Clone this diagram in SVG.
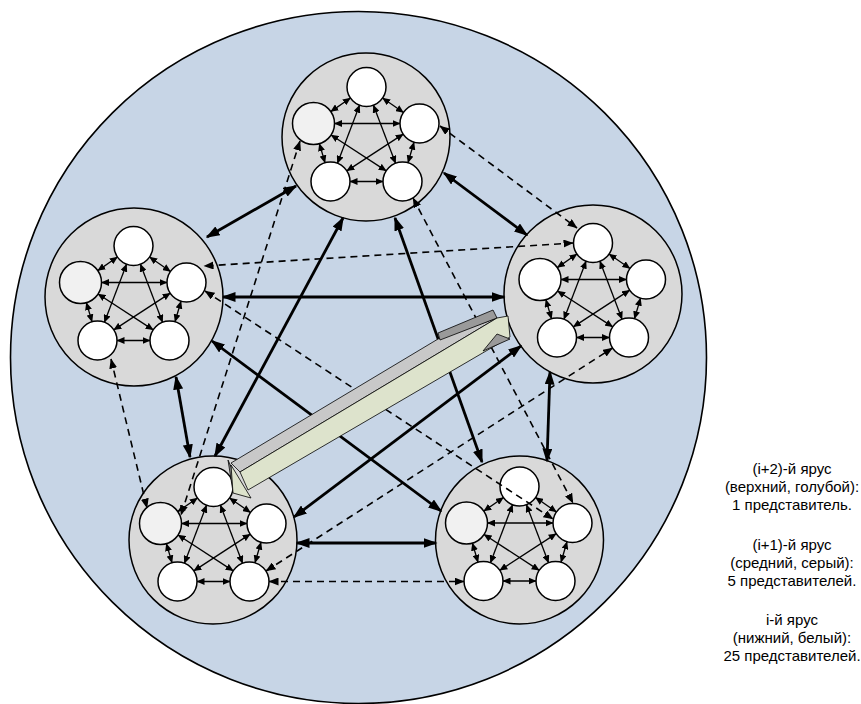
<svg xmlns="http://www.w3.org/2000/svg" xmlns:xlink="http://www.w3.org/1999/xlink" width="861" height="704" viewBox="0 0 861 704">
<style>
.outer{fill:#c7d5e6;stroke:#000;stroke-width:1.6}
.cl{fill:#d9d9d9;stroke:#000;stroke-width:1.5}
.nd{fill:#fff;stroke:#000;stroke-width:1.5}
.lt{fill:#f1f1f1;stroke:#000;stroke-width:1.5}
.ia{fill:none;stroke:#000;stroke-width:1.3;marker-start:url(#ms);marker-end:url(#ms)}
.th{fill:none;stroke:#000;stroke-width:2.8;marker-start:url(#mt);marker-end:url(#mt)}
.da{fill:none;stroke:#000;stroke-width:1.6;stroke-dasharray:7 5;marker-start:url(#md);marker-end:url(#md)}
.lbl{font-family:"Liberation Sans",Arial,sans-serif;font-size:15px;fill:#000;text-anchor:middle}
</style>
<defs>
<marker id="ms" markerUnits="userSpaceOnUse" viewBox="0 0 8 7" markerWidth="8" markerHeight="7" refX="7.5" refY="3.5" orient="auto-start-reverse"><path d="M0,0 L8,3.5 L0,7 z" fill="#000"/></marker>
<marker id="mt" markerUnits="userSpaceOnUse" viewBox="0 0 14 10" markerWidth="14" markerHeight="10" refX="12.5" refY="5" orient="auto-start-reverse"><path d="M0,0 L14,5 L0,10 z" fill="#000"/></marker>
<marker id="md" markerUnits="userSpaceOnUse" viewBox="0 0 10 8" markerWidth="10" markerHeight="8" refX="9.5" refY="4" orient="auto-start-reverse"><path d="M0,0 L10,4 L0,8 z" fill="#000"/></marker>
<g id="k5">
<path class="ia" d="M-16.06,-40.94 L-35.7,-27.41"/>
<path class="ia" d="M16.06,-40.94 L36.94,-26.56"/>
<path class="ia" d="M-6.94,-33.78 L-29.06,24.28"/>
<path class="ia" d="M6.94,-33.78 L29.06,24.28"/>
<path class="ia" d="M-32,-15.5 L33.5,-15.5"/>
<path class="ia" d="M-47.09,4.65 L-41.49,23.79"/>
<path class="ia" d="M47.51,3.21 L41.49,23.79"/>
<path class="ia" d="M-35.41,-4.03 L19.66,31.85"/>
<path class="ia" d="M36.66,-4.85 L-19.66,31.85"/>
<path class="ia" d="M-16.5,42.5 L16.5,42.5"/>
</g>
</defs>
<ellipse id="tier-top" class="outer" cx="358.5" cy="357.5" rx="348" ry="346"/>
<g id="cluster-top" transform="translate(366.5,139)">
<circle class="cl" cx="-0.5" cy="-2" r="84"/>
<use xlink:href="#k5"/>
<circle class="nd" cx="0" cy="-52" r="19.5"/>
<circle class="lt" cx="-53" cy="-15.5" r="21"/>
<circle class="nd" cx="53" cy="-15.5" r="19.5"/>
<circle class="nd" cx="-36" cy="42.5" r="19.5"/>
<circle class="nd" cx="36" cy="42.5" r="19.5"/>
</g>
<g id="cluster-left" transform="translate(133.5,298)">
<circle class="cl" cx="0.5" cy="-1" r="89"/>
<use xlink:href="#k5"/>
<circle class="nd" cx="0" cy="-52" r="19.5"/>
<circle class="lt" cx="-53" cy="-15.5" r="21"/>
<circle class="nd" cx="53" cy="-15.5" r="19.5"/>
<circle class="nd" cx="-36" cy="42.5" r="19.5"/>
<circle class="nd" cx="36" cy="42.5" r="19.5"/>
</g>
<g id="cluster-right" transform="translate(593,295)">
<circle class="cl" cx="0" cy="-1" r="89"/>
<use xlink:href="#k5"/>
<circle class="nd" cx="0" cy="-52" r="19.5"/>
<circle class="nd" cx="-53" cy="-15.5" r="21"/>
<circle class="nd" cx="53" cy="-15.5" r="19.5"/>
<circle class="nd" cx="-36" cy="42.5" r="19.5"/>
<circle class="nd" cx="36" cy="42.5" r="19.5"/>
</g>
<g id="cluster-bottom-left" transform="translate(213.5,539)">
<circle class="cl" cx="-0.5" cy="1" r="84"/>
<use xlink:href="#k5"/>
<circle class="nd" cx="0" cy="-52" r="19.5"/>
<circle class="lt" cx="-53" cy="-15.5" r="21"/>
<circle class="nd" cx="53" cy="-15.5" r="19.5"/>
<circle class="nd" cx="-36" cy="42.5" r="19.5"/>
<circle class="nd" cx="36" cy="42.5" r="19.5"/>
</g>
<g id="cluster-bottom-right" transform="translate(519.5,538.5)">
<circle class="cl" cx="0" cy="1.5" r="84"/>
<use xlink:href="#k5"/>
<circle class="nd" cx="0" cy="-52" r="19.5"/>
<circle class="lt" cx="-53" cy="-15.5" r="21"/>
<circle class="nd" cx="53" cy="-15.5" r="19.5"/>
<circle class="nd" cx="-36" cy="42.5" r="19.5"/>
<circle class="nd" cx="36" cy="42.5" r="19.5"/>
</g>
<g id="connectors">
<path class="th" d="M296,186 L207,237"/>
<path class="th" d="M444,173 L527,235"/>
<path class="th" d="M343,218 L215,456"/>
<path class="th" d="M395,218 L482,462"/>
<path class="th" d="M223,297 L504,297"/>
<path class="th" d="M176,377 L190,457"/>
<path class="th" d="M212,341 L441,511"/>
<path class="th" d="M521,346 L294,517"/>
<path class="th" d="M550,372 L547,461"/>
<path class="th" d="M297,543 L436,543"/>
<path class="da" d="M440,126 L577,228"/>
<path class="da" d="M573,243 L204,266"/>
<path class="da" d="M205,291 L553,519"/>
<path class="da" d="M300,141 L181,515"/>
<path class="da" d="M111,359 L147,508"/>
<path class="da" d="M413,198 L573,503"/>
<path class="da" d="M266,571 L612.5,348"/>
<path class="da" d="M269,581.5 L464,581.5"/>
</g>
<g id="big-arrow" stroke="#000" stroke-width="0.8" stroke-linejoin="round">
<polygon points="231,463 438,339 497,318 240,472" fill="#c8c8c8"/>
<polygon points="438,333 493,310 497,318 440,340" fill="#9a9a9a"/>
<polygon points="240,472 497,318 508,316 510,337 248,490" fill="#dde3cc"/>
<polygon points="497,334 510,339 483,351" fill="#9a9a9a"/>
<polygon points="228,460 233,471 233,492" fill="#8a8a8a"/>
<polygon points="231,465 251,498 233,493" fill="#dde3cc"/>
</g>
<g id="legend" class="lbl">
<text x="792" y="474">(i+2)-й ярус</text>
<text x="792" y="492">(верхний, голубой):</text>
<text x="792" y="510">1 представитель.</text>
<text x="792" y="550">(i+1)-й ярус</text>
<text x="792" y="568">(средний, серый):</text>
<text x="792" y="586">5 представителей.</text>
<text x="792" y="625">i-й ярус</text>
<text x="792" y="643">(нижний, белый):</text>
<text x="792" y="661">25 представителей.</text>
</g>
</svg>
